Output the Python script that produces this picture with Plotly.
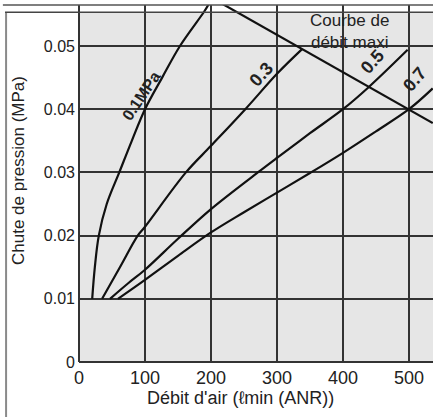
import plotly.graph_objects as go

# Pressure-drop curves by supply pressure: air flow (l/min ANR) vs pressure drop (MPa)
flow_01 = [20, 24, 30, 42, 61, 80, 100, 126, 153, 190, 197]
drop_01 = [0.010, 0.015, 0.020, 0.025, 0.030, 0.035, 0.040, 0.045, 0.050, 0.0555, 0.0567]

flow_03 = [35, 62, 89, 100, 162, 200, 252, 300, 338]
drop_03 = [0.010, 0.015, 0.020, 0.0214, 0.030, 0.0342, 0.040, 0.0456, 0.0495]

flow_05 = [47, 75, 100, 150, 200, 271, 300, 350, 400, 438, 498]
drop_05 = [0.010, 0.0125, 0.0146, 0.0195, 0.0242, 0.030, 0.0323, 0.0362, 0.040, 0.0434, 0.0494]

flow_07 = [59, 100, 150, 200, 250, 300, 350, 400, 450, 500, 536]
drop_07 = [0.010, 0.0130, 0.0168, 0.0205, 0.0237, 0.0268, 0.0299, 0.0331, 0.0365, 0.040, 0.0433]

# Maximum flow curve
flow_max = [215, 536]
drop_max = [0.0568, 0.0378]

x_ticks = [0, 100, 200, 300, 400, 500]
y_ticks = [0, 0.01, 0.02, 0.03, 0.04, 0.05]
y_tick_text = ["0", "0.01", "0.02", "0.03", "0.04", "0.05"]

X_MAX = 536.4
Y_MAX = 0.05649
Y_PANEL = 0.05535

FONT = "Liberation Sans, Arial, sans-serif"
INK = "#222222"
GRID = "#333333"

fig = go.Figure()
for fx, fy in [(flow_01, drop_01), (flow_03, drop_03), (flow_05, drop_05),
               (flow_07, drop_07), (flow_max, drop_max)]:
    fig.add_trace(go.Scatter(x=fx, y=fy, mode="lines",
                             line=dict(color="#111111", width=2.2, shape="spline", smoothing=1.0),
                             hoverinfo="skip", showlegend=False))

shapes = [
    # grey chart panel
    dict(type="rect", xref="x", yref="y", x0=0, x1=X_MAX, y0=0, y1=Y_PANEL,
         fillcolor="#e6e6e6", line=dict(width=0), layer="below"),
    # white gap above the panel, hiding the grid between the two frame rules
    dict(type="rect", xref="paper", yref="y", x0=-0.3, x1=1.01, y0=0.05550, y1=0.05603,
         fillcolor="white", line=dict(width=0), layer="between"),
    # frame rules
    dict(type="line", xref="paper", yref="paper", x0=-0.215, x1=1.01, y0=1, y1=1,
         line=dict(color="#555555", width=1.5)),
    dict(type="line", xref="paper", yref="y", x0=-0.209, x1=1.01, y0=Y_PANEL, y1=Y_PANEL,
         line=dict(color="#444444", width=1.5)),
    dict(type="line", xref="paper", yref="paper", x0=-0.206, x1=-0.206, y0=0.9776, y1=-0.16,
         line=dict(color="#8a8a8a", width=2)),
]

annotations = [
    dict(x=95, y=0.0421, text="<b>0.1MPa</b>", textangle=-56, showarrow=False,
         font=dict(family=FONT, size=16, color=INK)),
    dict(x=277, y=0.0455, text="<b>0.3</b>", textangle=-48, showarrow=False,
         font=dict(family=FONT, size=18, color=INK)),
    dict(x=444, y=0.0475, text="<b>0.5</b>", textangle=-48, showarrow=False,
         font=dict(family=FONT, size=18, color=INK)),
    dict(x=509, y=0.0448, text="<b>0.7</b>", textangle=-50, showarrow=False,
         font=dict(family=FONT, size=18, color=INK)),
    dict(x=410, y=0.05226, text="Courbe de<br>débit maxi", showarrow=False,
         font=dict(family=FONT, size=17, color=INK)),
    dict(xref="paper", yref="paper", x=(240 - 79) / 354, y=(362 - 398) / 357,
         xanchor="center", yanchor="middle",
         text="Débit d'air (ℓmin (ANR))", showarrow=False,
         font=dict(family=FONT, size=18, color=INK)),
    dict(xref="paper", yref="paper", x=(18 - 79) / 354, y=(362 - 171) / 357,
         xanchor="center", yanchor="middle",
         text="Chute de pression (MPa)", textangle=-90, showarrow=False,
         font=dict(family=FONT, size=17, color=INK)),
]

fig.update_layout(
    width=433, height=417,
    margin=dict(l=79, r=0, t=5, b=55),
    paper_bgcolor="white", plot_bgcolor="white",
    shapes=shapes, annotations=annotations,
    font=dict(family=FONT, size=17, color=INK),
)
fig.update_xaxes(range=[0, X_MAX], tickmode="array", tickvals=x_ticks,
                 showgrid=True, gridcolor=GRID, gridwidth=1.5,
                 zeroline=True, zerolinecolor=GRID, zerolinewidth=1.5,
                 showline=False, ticks="", ticklabelstandoff=3,
                 tickfont=dict(size=18, color=INK))
fig.update_yaxes(range=[0, Y_MAX], tickmode="array", tickvals=y_ticks, ticktext=y_tick_text,
                 showgrid=True, gridcolor=GRID, gridwidth=1.5,
                 zeroline=True, zerolinecolor=GRID, zerolinewidth=1.5,
                 showline=False, ticks="", ticklabelstandoff=3,
                 tickfont=dict(size=16, color=INK))

fig.write_html("out.html")
